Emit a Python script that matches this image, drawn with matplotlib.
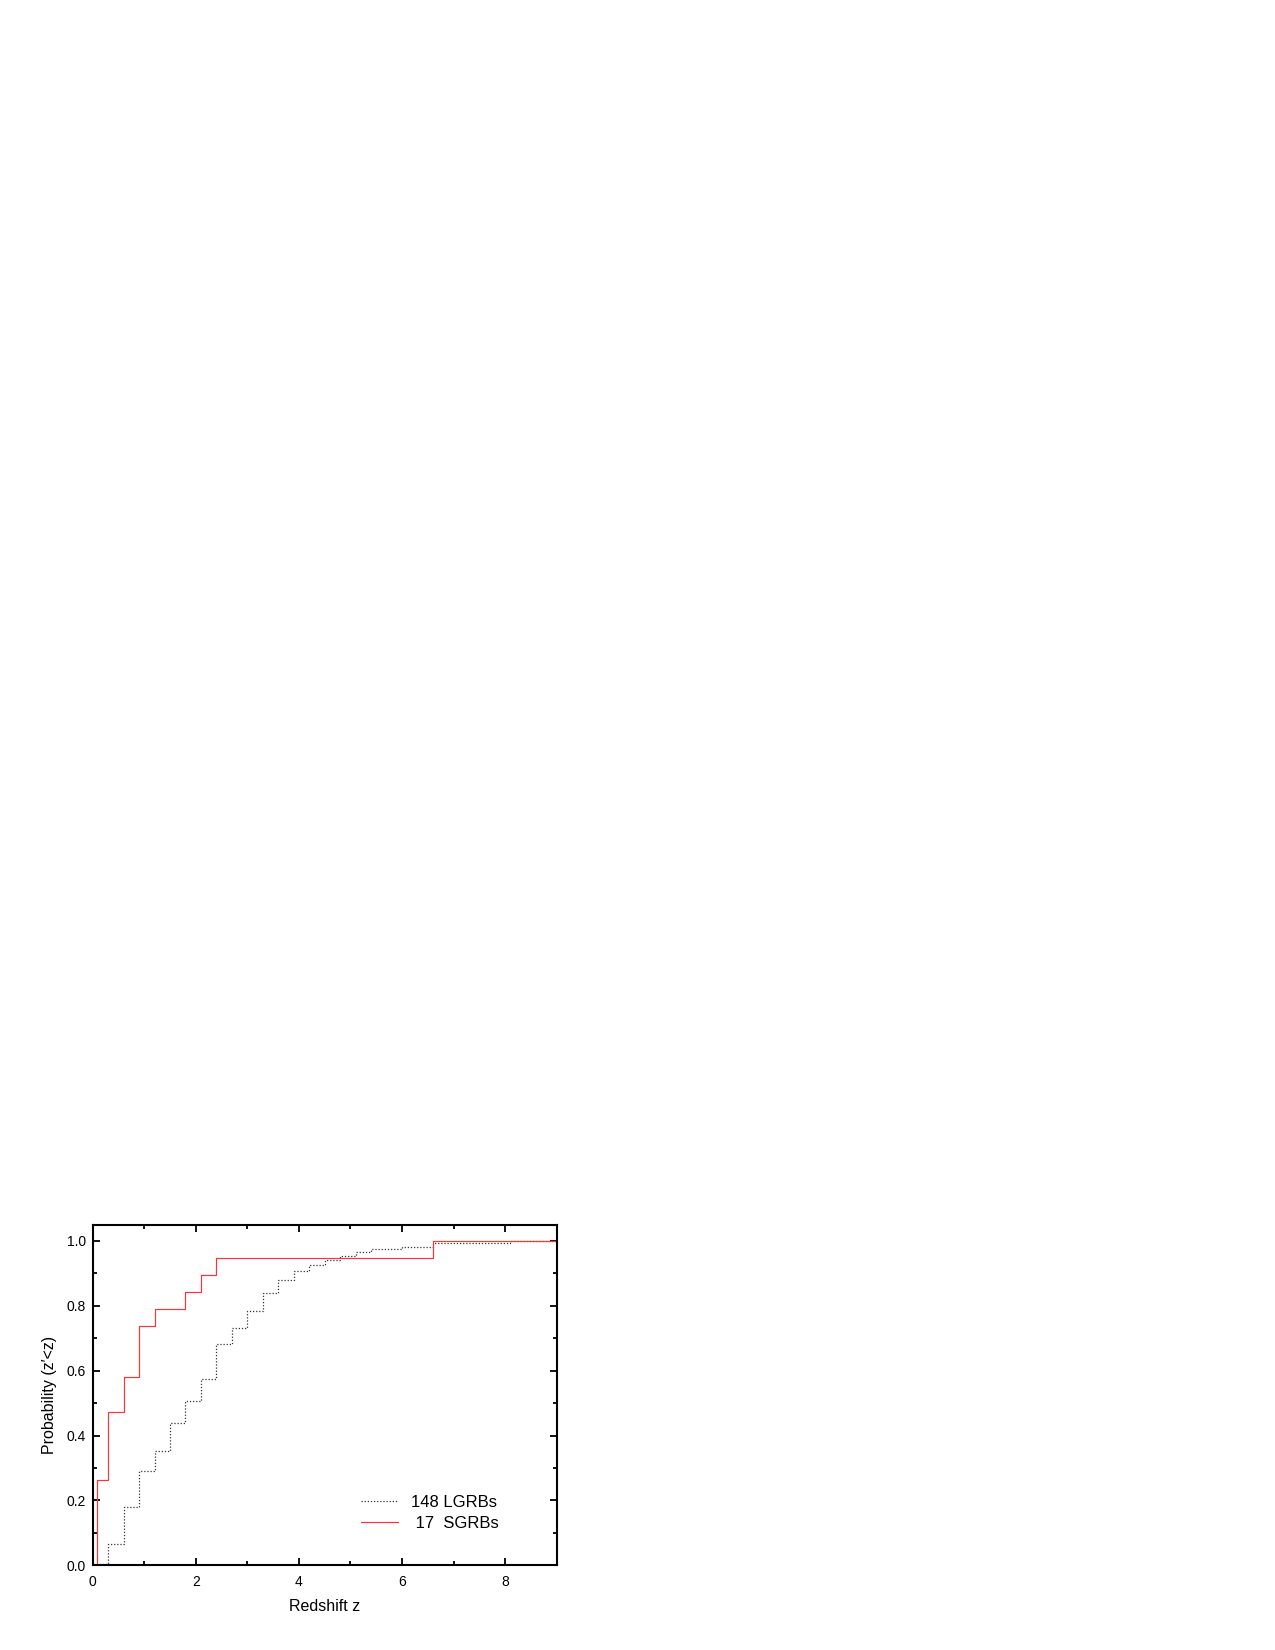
import matplotlib
matplotlib.use("Agg")
import matplotlib.pyplot as plt
from matplotlib.ticker import MultipleLocator

plt.rcParams['font.family'] = ['Liberation Sans', 'DejaVu Sans']

# cumulative redshift distributions (step edges, value after each edge)
lgrb_z = [0, 0.3, 0.6, 0.9, 1.2, 1.5, 1.8, 2.1, 2.4, 2.7, 3.0, 3.3, 3.6, 3.9,
          4.2, 4.5, 4.8, 5.1, 5.4, 6.0, 6.6, 8.1, 9.0]
lgrb_p = [0.005, 0.066, 0.181, 0.290, 0.351, 0.438, 0.505, 0.574, 0.683, 0.730,
          0.785, 0.839, 0.879, 0.906, 0.927, 0.940, 0.954, 0.966, 0.975, 0.981,
          0.992, 1.0, 1.0]

sgrb_z = [0, 0.08, 0.3, 0.6, 0.9, 1.2, 1.8, 2.1, 2.4, 6.6, 9.0]
sgrb_p = [0, 0.263, 0.474, 0.579, 0.737, 0.789, 0.842, 0.895, 0.947, 1.0, 1.0]

labels = ["148 LGRBs", " 17  SGRBs"]

fig = plt.figure(figsize=(12.75, 16.5), dpi=100)
ax = fig.add_axes([0.0727, 0.0513, 0.3639, 0.2065])

ax.step(lgrb_z, lgrb_p, where="post", color="#333333", linestyle=(0, (1, 1.5)),
        linewidth=0.9, label=labels[0])
ax.step(sgrb_z, sgrb_p, where="post", color="#ff3333", linewidth=0.85,
        label=labels[1])

ax.set_xlim(0, 9)
ax.set_ylim(0, 1.05)
ax.xaxis.set_major_locator(MultipleLocator(2))
ax.xaxis.set_minor_locator(MultipleLocator(1))
ax.yaxis.set_major_locator(MultipleLocator(0.2))
ax.yaxis.set_minor_locator(MultipleLocator(0.1))
ax.set_yticklabels([f"{v:.1f}" for v in ax.get_yticks()])

ax.tick_params(which="both", direction="in", top=True, right=True,
               width=1.3, labelsize=10)
ax.tick_params(which="major", length=5)
ax.tick_params(which="minor", length=3)
ax.tick_params(axis="x", pad=7)
ax.tick_params(axis="y", pad=5)
for s in ax.spines.values():
    s.set_linewidth(1.5)

ax.set_xlabel("Redshift z", fontsize=11.5, labelpad=7.5)
ax.set_ylabel("Probability (z\u2032<z)", fontsize=11.5, labelpad=7)

ax.legend(loc="upper left", bbox_to_anchor=(0.578, 0.207), frameon=False,
          fontsize=12, handlelength=2.2, handletextpad=0.8,
          borderpad=0, borderaxespad=0, labelspacing=0.38)

fig.savefig("out.png", dpi=100)
